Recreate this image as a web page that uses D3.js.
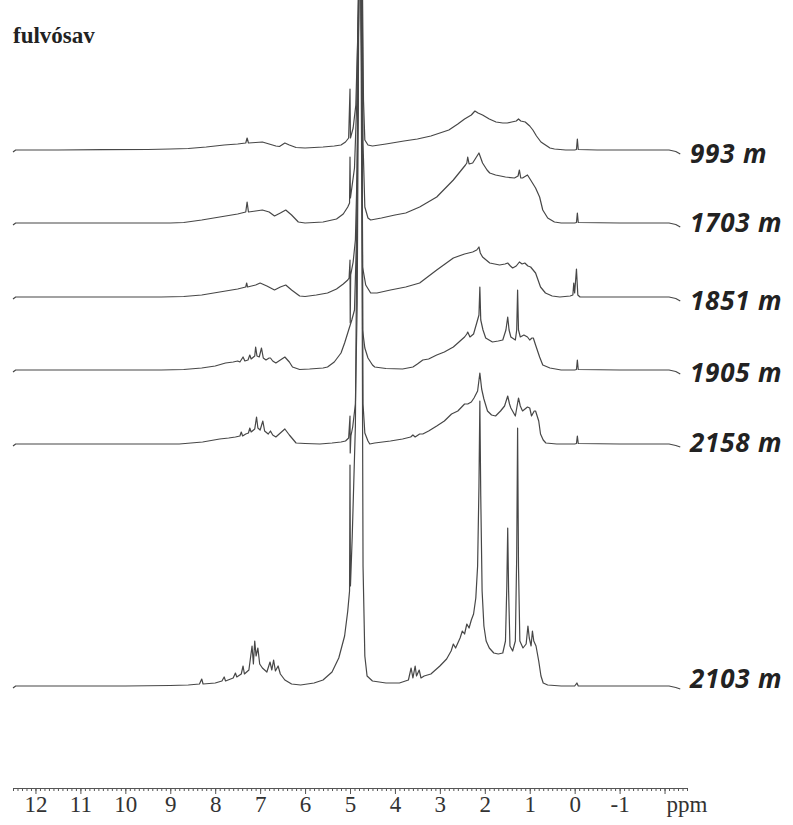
<!DOCTYPE html>
<html>
<head>
<meta charset="utf-8">
<script src="https://cdn.jsdelivr.net/npm/d3@7"></script>
<style>
  html, body { margin: 0; padding: 0; background: #fff; }
  svg { display: block; }
</style>
</head>
<body>
<svg id="chart" width="793" height="825"></svg>
<script>
// ---- data: 1H NMR spectra of fulvic acid, [ppm, intensity] ----
const title = "fulvósav";
const seriesNames = ["993 m", "1703 m", "1851 m", "1905 m", "2158 m", "2103 m"];

const spec993 = [
  [12.5,-2],[12.44,0],[11.5,0],[10.5,0.3],[9.5,0.5],[9,1],[8.6,1.5],[8.2,3],[7.8,5],[7.5,6],
  [7.32,7],[7.29,12],[7.26,7],[7.1,7.5],[6.95,8],[6.8,6],[6.65,4],[6.57,3.5],[6.45,7],[6.35,5],
  [6.2,2.5],[6.0,2],[5.6,3],[5.35,4],[5.2,5],[5.1,8],[5.03,12],[5.0,61],[4.99,12],[4.93,22],
  [4.87,45],[4.83,110],[4.79,200],[4.76,190],[4.72,150],[4.7,50],[4.67,10],[4.6,5],[4.5,4],
  [4.2,6],[3.8,9],[3.5,11],[3.2,14],[3.0,17],[2.8,20],[2.6,26],[2.45,31],[2.3,35],[2.22,39],
  [2.15,37],[2.05,35],[1.9,31],[1.75,28],[1.6,27],[1.5,27],[1.4,28],[1.3,29],[1.25,31],[1.2,29],
  [1.1,28],[1.0,24],[0.93,20],[0.85,14],[0.75,8],[0.65,5],[0.55,2],[0.45,1],[0.2,0],[0.0,0],
  [-0.04,0.5],[-0.06,11],[-0.08,0.5],[-0.5,0],[-1.5,0],[-2.1,0],[-2.25,-1.5],[-2.35,-4]
];

const spec1703 = [
  [12.5,-2],[12.44,0],[11,0],[10,0],[9,0],[8.7,0.5],[8.3,3],[7.9,6],[7.5,9],[7.32,11],
  [7.29,21],[7.26,11],[7.1,12],[6.95,13],[6.8,11],[6.68,7],[6.55,10],[6.43,13],[6.3,8],[6.15,1],
  [6.0,0],[5.6,1],[5.3,4],[5.15,9],[5.05,16],[5.01,20],[5.0,66],[4.99,25],[4.9,55],[4.85,120],
  [4.8,270],[4.76,270],[4.73,240],[4.71,80],[4.67,16],[4.6,5],[4.54,3],[4.3,5],[4.0,8],
  [3.76,10],[3.45,16],[3.07,26],[2.7,43],[2.43,58],[2.4,60],[2.38,66],[2.35,59],[2.27,60],
  [2.2,65],[2.13,70],[2.05,60],[1.95,53],[1.89,50],[1.76,48],[1.54,46],[1.34,45],[1.26,47],
  [1.23,53],[1.2,45],[1.16,45],[1.05,48],[0.98,43],[0.87,35],[0.78,26],[0.71,13],[0.6,5],
  [0.45,1],[0.3,0],[0.0,0],[-0.04,0.5],[-0.06,10],[-0.08,0.5],[-1,0],[-2.1,0],[-2.25,-1.5],[-2.35,-4]
];

const spec1851 = [
  [12.5,-2],[12.44,0],[11,0],[10,0],[9.2,0],[8.7,0.5],[8.3,2],[7.9,5],[7.5,8],[7.32,10],
  [7.3,14],[7.28,10],[7.1,12],[7.0,14],[6.85,11],[6.68,7],[6.55,10],[6.43,12],[6.3,7],[6.12,1],
  [6.0,0.5],[5.75,2],[5.5,4],[5.3,8],[5.15,13],[5.05,17],[5.02,19],[5.0,37],[4.995,-26],
  [4.985,22],[4.93,35],[4.88,57],[4.84,130],[4.8,330],[4.76,330],[4.73,200],[4.72,30],[4.65,12],
  [4.54,4],[4.4,4],[4.1,7],[3.76,10],[3.45,14],[3.07,27],[2.7,39],[2.45,43],[2.27,45],[2.18,47],
  [2.13,50],[2.1,44],[2.05,40],[1.89,34],[1.67,32],[1.55,33],[1.49,34],[1.43,31],[1.38,29],
  [1.3,31],[1.23,35],[1.17,33],[1.11,34],[1.04,31],[0.98,30],[0.87,24],[0.76,10],[0.65,4],
  [0.5,1],[0.33,0],[0.1,1],[0.04,2],[0.02,14],[0.0,4],[-0.04,28],[-0.07,2],[-0.12,0],[-1,0],
  [-2.1,0],[-2.25,-1.5],[-2.35,-4]
];

const spec1905 = [
  [12.5,-2],[12.44,0],[11,0],[10,0],[9.2,0],[8.7,0.5],[8.3,2],[8.0,4],[7.77,7],[7.6,8],[7.5,9],
  [7.45,8],[7.38,13],[7.34,9],[7.27,10],[7.23,15],[7.2,11],[7.12,14],[7.1,23],[7.07,14],[7.02,13],
  [6.97,22],[6.93,12],[6.87,10],[6.8,12],[6.77,12],[6.72,9],[6.65,7],[6.55,10],[6.45,13],[6.35,8],
  [6.28,3],[6.12,0.5],[5.9,1],[5.6,2],[5.5,3],[5.35,8],[5.2,17],[5.12,27],[5.03,40],[4.96,50],
  [4.9,60],[4.85,140],[4.8,400],[4.76,400],[4.73,260],[4.72,40],[4.67,22],[4.6,12],[4.5,5],
  [4.45,3],[4.2,1.5],[3.83,1],[3.6,3],[3.5,6],[3.38,10],[3.25,11],[3.07,15],[2.9,18],[2.7,23],
  [2.45,33],[2.4,36],[2.38,38],[2.33,33],[2.25,36],[2.18,47],[2.13,55],[2.11,83],[2.09,50],
  [2.04,40],[1.98,32],[1.83,28],[1.7,29],[1.6,30],[1.53,40],[1.49,53],[1.46,40],[1.42,33],
  [1.32,30],[1.29,40],[1.27,80],[1.25,40],[1.21,33],[1.13,35],[1.05,33],[1.0,30],[0.95,32],
  [0.92,32],[0.87,25],[0.78,13],[0.71,5],[0.55,2],[0.3,0],[0.0,0],[-0.04,0.5],[-0.06,10],
  [-0.08,0.5],[-1,0],[-2.1,0],[-2.25,-1.5],[-2.35,-4]
];

const spec2158 = [
  [12.5,-2],[12.44,0],[11,0],[10,0],[9.2,0],[8.8,0],[8.28,2],[7.9,5],[7.7,6],[7.55,7],[7.45,8],
  [7.42,12],[7.39,8],[7.32,10],[7.26,11],[7.23,16],[7.2,12],[7.12,15],[7.08,27],[7.05,16],[7.0,14],
  [6.94,23],[6.9,13],[6.82,10],[6.77,13],[6.72,9],[6.65,7],[6.55,11],[6.45,15],[6.35,9],[6.2,1],
  [6.0,0.5],[5.67,0],[5.4,1],[5.2,2],[5.1,3],[5.03,6],[5.0,28],[4.995,-9],[4.98,8],[4.94,17],
  [4.88,40],[4.84,140],[4.8,480],[4.76,480],[4.73,300],[4.71,40],[4.67,11],[4.6,3],[4.56,0],
  [4.45,1],[4.1,3],[3.83,5],[3.65,7],[3.6,9],[3.55,7],[3.45,10],[3.38,10],[3.25,13],[3.07,18],
  [2.9,23],[2.74,30],[2.6,33],[2.45,40],[2.38,40],[2.3,42],[2.24,46],[2.16,53],[2.11,71],
  [2.07,55],[2.02,45],[1.94,33],[1.85,29],[1.76,28],[1.65,33],[1.56,38],[1.49,48],[1.45,40],
  [1.42,36],[1.32,28],[1.25,46],[1.21,38],[1.16,33],[1.05,37],[1.0,36],[0.96,28],[0.9,33],
  [0.87,33],[0.8,23],[0.76,10],[0.7,4],[0.64,1],[0.4,0],[0.0,0],[-0.04,0.5],[-0.06,8],
  [-0.08,0.5],[-1,0],[-2.1,0],[-2.25,-1.5],[-2.35,-3]
];

const spec2103 = [
  [12.5,-2],[12.44,0],[11,0],[10,0],[9,0.5],[8.6,1],[8.35,2],[8.3,7],[8.27,2],[8.0,3],[7.85,5],
  [7.8,9],[7.77,5],[7.6,8],[7.55,13],[7.52,9],[7.42,12],[7.38,20],[7.35,12],[7.25,16],[7.18,40],
  [7.15,22],[7.12,45],[7.09,30],[7.05,38],[7.01,22],[6.95,18],[6.85,14],[6.78,24],[6.74,16],
  [6.7,26],[6.66,15],[6.6,20],[6.55,12],[6.45,6],[6.3,2],[6.1,1],[5.8,3],[5.6,6],[5.4,14],
  [5.25,28],[5.12,50],[5.05,75],[5.01,95],[5.0,221],[4.99,100],[4.95,150],[4.88,260],[4.84,500],
  [4.8,720],[4.76,720],[4.73,400],[4.71,120],[4.67,30],[4.62,10],[4.5,5],[4.2,3],[3.9,3],[3.7,6],
  [3.64,18],[3.6,8],[3.55,20],[3.52,10],[3.46,16],[3.42,8],[3.35,10],[3.2,12],[3.0,20],[2.85,27],
  [2.75,35],[2.7,42],[2.65,38],[2.55,48],[2.5,55],[2.45,52],[2.4,62],[2.35,58],[2.3,66],[2.25,72],
  [2.2,88],[2.16,120],[2.13,200],[2.11,285],[2.09,190],[2.06,95],[2.02,60],[1.97,45],[1.9,38],
  [1.8,33],[1.7,32],[1.6,33],[1.54,45],[1.51,100],[1.49,158],[1.47,95],[1.44,40],[1.38,35],
  [1.32,45],[1.29,130],[1.27,258],[1.25,120],[1.22,45],[1.15,38],[1.08,42],[1.04,60],[1.01,48],
  [0.97,40],[0.94,55],[0.91,45],[0.86,40],[0.8,25],[0.75,10],[0.7,3],[0.6,1],[0.3,0],[0.0,0],
  [-0.05,3],[-0.08,0],[-1,0],[-2.1,0],[-2.25,-1.5],[-2.35,-3]
];

const spectra = [spec993, spec1703, spec1851, spec1905, spec2158, spec2103];

// axis ticks
const majorTicks = [12, 11, 10, 9, 8, 7, 6, 5, 4, 3, 2, 1, 0, -1, -2];
const tickLabels = ["12", "11", "10", "9", "8", "7", "6", "5", "4", "3", "2", "1", "0", "-1", ""];
const axisUnit = "ppm";

// ---- layout ----
const stackBaseline = [150, 223, 297, 370, 444, 686];   // vertical offset of each trace
const labelBaseline = [163, 232, 310, 382, 452, 688];
const axisY = 788;

const svg = d3.select("#chart");
svg.append("rect").attr("width", 793).attr("height", 825).attr("fill", "#fff");

const x = d3.scaleLinear().domain([12.5, -2.5]).range([13, 687]);

// stacked traces
spectra.forEach((data, i) => {
  const y = d3.scaleLinear().domain([0, 100]).range([stackBaseline[i], stackBaseline[i] - 100]);
  const line = d3.line().x(d => x(d[0])).y(d => y(d[1]));
  svg.append("path")
    .datum(data)
    .attr("d", line)
    .attr("fill", "none")
    .attr("stroke", "#474747")
    .attr("stroke-width", 1.2)
    .attr("stroke-linejoin", "round");
});

// trace labels
svg.selectAll("text.series")
  .data(seriesNames)
  .join("text")
  .attr("class", "series")
  .attr("x", 690)
  .attr("y", (d, i) => labelBaseline[i])
  .attr("font-family", "'Open Sans', sans-serif")
  .attr("font-weight", "bold")
  .attr("font-style", "italic")
  .attr("font-size", 26)
  .attr("letter-spacing", 0.8)
  .attr("fill", "#222")
  .text(d => d);

// title
svg.append("text")
  .attr("x", 13)
  .attr("y", 43)
  .attr("font-family", "'Liberation Serif', serif")
  .attr("font-weight", "bold")
  .attr("font-size", 23)
  .attr("fill", "#222")
  .text(title);

// ppm axis: minor ticks every 0.1 ppm, labelled major ticks every 1 ppm
const minorTicks = d3.range(-25, 126).map(v => v / 10);
const minorAxis = d3.axisBottom(x).tickValues(minorTicks).tickSize(3).tickSizeOuter(0).tickFormat("");
const gMinor = svg.append("g").attr("transform", `translate(0,${axisY})`).call(minorAxis);
gMinor.selectAll("path, line").attr("stroke", "#555").attr("stroke-width", 1);

const majorAxis = d3.axisBottom(x).tickValues(majorTicks).tickSize(6).tickSizeOuter(0)
  .tickFormat((d, i) => tickLabels[i]);
const gMajor = svg.append("g").attr("transform", `translate(0,${axisY})`).call(majorAxis);
gMajor.select(".domain").attr("stroke", "#555");
gMajor.selectAll("line").attr("stroke", "#555");
gMajor.selectAll("text")
  .attr("y", 24)
  .attr("dy", 0)
  .attr("font-family", "'Liberation Serif', serif")
  .attr("font-size", 23)
  .attr("fill", "#333");

svg.append("text")
  .attr("x", x(-2.5))
  .attr("y", axisY + 24)
  .attr("text-anchor", "middle")
  .attr("font-family", "'Liberation Serif', serif")
  .attr("font-size", 23)
  .attr("fill", "#333")
  .text(axisUnit);
</script>
</body>
</html>
